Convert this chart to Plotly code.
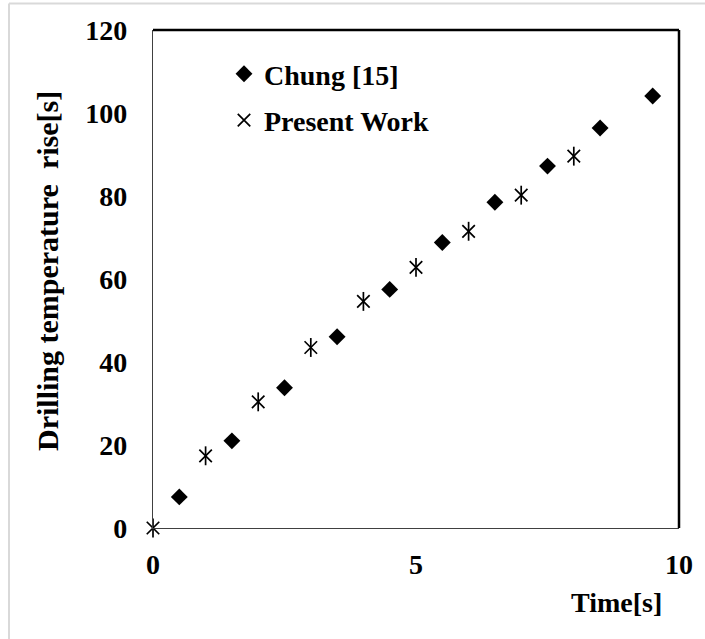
import plotly.graph_objects as go

# Data
chung_x = [0.5, 1.5, 2.5, 3.5, 4.5, 5.5, 6.5, 7.5, 8.5, 9.5]
chung_y = [7.5, 21.0, 33.8, 46.1, 57.5, 68.8, 78.5, 87.2, 96.4, 104.1]
present_x = [0, 1, 2, 3, 4, 5, 6, 7, 8]
present_y = [0, 17.4, 30.4, 43.5, 54.6, 62.8, 71.5, 80.2, 89.6]
x_ticks = [0, 5, 10]
y_ticks = [0, 20, 40, 60, 80, 100, 120]

FONT = "Liberation Serif"
W, H = 705, 639
ML, MR, MT, MB = 153, 26, 30, 111
PW, PH = W - ML - MR, H - MT - MB


def px_to_paper_x(px):
    return (px - ML) / PW


def px_to_paper_y(py):
    return (H - MB - py) / PH


fig = go.Figure()
fig.add_trace(go.Scatter(
    x=chung_x, y=chung_y, mode="markers", name="Chung [15]",
    legendgroup="a",
    marker=dict(symbol="diamond", size=13, color="black"),
    cliponaxis=False,
))
fig.add_trace(go.Scatter(
    x=present_x, y=present_y, mode="markers", name="Present Work",
    legendgroup="b",
    marker=dict(symbol="x-thin-open", size=12.5, color="black",
                line=dict(color="black", width=1.7)),
    cliponaxis=False,
))
fig.add_trace(go.Scatter(
    x=present_x, y=present_y, mode="markers", name="Present Work",
    legendgroup="b", showlegend=False,
    marker=dict(symbol="line-ns-open", size=13.5, color="black",
                line=dict(color="black", width=1.7)),
    cliponaxis=False,
))

fig.update_layout(
    width=W, height=H,
    margin=dict(l=ML, r=MR, t=MT, b=MB),
    paper_bgcolor="white", plot_bgcolor="white",
    font=dict(family=FONT, size=28, color="black"),
    showlegend=True,
    legend=dict(
        x=px_to_paper_x(224), y=px_to_paper_y(49), xanchor="left", yanchor="top",
        font=dict(family=FONT, size=28, color="black", weight="bold"),
        bgcolor="rgba(0,0,0,0)", tracegroupgap=7, traceorder="grouped",
    ),
    xaxis=dict(
        range=[0, 10], tickvals=x_ticks, showgrid=False, zeroline=False,
        showline=True, linecolor="#404040", linewidth=1.2,
        ticks="", ticklabelstandoff=11,
        tickfont=dict(family=FONT, size=28, color="black", weight="bold"),
    ),
    yaxis=dict(
        range=[0, 120], tickvals=y_ticks, showgrid=False, zeroline=False,
        showline=True, linecolor="#404040", linewidth=1.2,
        ticks="", ticklabelstandoff=19,
        tickfont=dict(family=FONT, size=28, color="black", weight="bold"),
    ),
    annotations=[
        dict(text="Time[s]", xref="paper", yref="paper",
             x=px_to_paper_x(664), y=px_to_paper_y(602),
             xanchor="right", yanchor="middle", showarrow=False,
             font=dict(family=FONT, size=28, color="black", weight="bold")),
        dict(text="Drilling temperature  rise[s]", xref="paper", yref="paper",
             x=px_to_paper_x(47), y=px_to_paper_y(271), textangle=-90,
             xanchor="center", yanchor="middle", showarrow=False,
             font=dict(family=FONT, size=30, color="black", weight="bold")),
    ],
    shapes=[
        dict(type="line", xref="paper", yref="paper", x0=0, x1=1, y0=1, y1=1,
             line=dict(color="black", width=2.5)),
        dict(type="line", xref="paper", yref="paper", x0=1, x1=1, y0=0, y1=1,
             line=dict(color="black", width=2.5)),
        dict(type="line", xref="paper", yref="paper",
             x0=px_to_paper_x(9), x1=px_to_paper_x(705),
             y0=px_to_paper_y(3.5), y1=px_to_paper_y(3.5),
             line=dict(color="#d9d9d9", width=2)),
        dict(type="line", xref="paper", yref="paper",
             x0=px_to_paper_x(9), x1=px_to_paper_x(9),
             y0=px_to_paper_y(3.5), y1=px_to_paper_y(639),
             line=dict(color="#d9d9d9", width=2)),
    ],
)

fig.write_html(
    "out.html",
    config={"displayModeBar": False},
    post_script="document.body.style.margin='0';document.body.style.overflow='hidden';",
)
